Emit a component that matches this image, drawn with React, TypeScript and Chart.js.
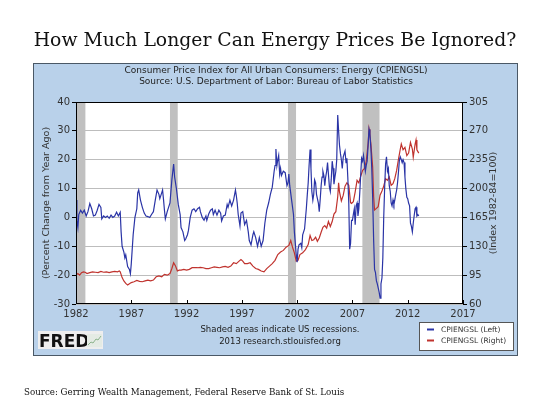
import { useEffect, useRef } from 'react';
import { Chart, registerables } from 'chart.js';

Chart.register(...registerables);

// ---------- data ----------
const blueYears = [
  1982.00, 1982.08, 1982.17, 1982.25, 1982.42, 1982.58, 1982.75, 1982.92,
  1983.08, 1983.25, 1983.42, 1983.58, 1983.75, 1983.92,
  1984.08, 1984.25, 1984.33, 1984.50, 1984.67, 1984.83,
  1985.00, 1985.17, 1985.33, 1985.50, 1985.67, 1985.83,
  1986.00, 1986.08, 1986.17, 1986.33, 1986.42, 1986.50, 1986.67, 1986.83, 1986.92,
  1987.00, 1987.17, 1987.33, 1987.50, 1987.58, 1987.67, 1987.83,
  1988.00, 1988.17, 1988.33, 1988.50, 1988.67, 1988.83,
  1989.00, 1989.17, 1989.33, 1989.50, 1989.58, 1989.75, 1989.83, 1989.92,
  1990.00, 1990.08, 1990.25, 1990.50, 1990.67, 1990.83, 1990.92,
  1991.08, 1991.25, 1991.42, 1991.50, 1991.67, 1991.83, 1991.92,
  1992.08, 1992.17, 1992.33, 1992.50, 1992.67, 1992.83,
  1993.00, 1993.17, 1993.25, 1993.42, 1993.58, 1993.75, 1993.83,
  1994.00, 1994.17, 1994.33, 1994.42, 1994.58, 1994.75, 1994.92,
  1995.08, 1995.17, 1995.33, 1995.50, 1995.67, 1995.75, 1995.92,
  1996.08, 1996.25, 1996.42, 1996.50, 1996.58, 1996.67, 1996.83, 1996.92,
  1997.08, 1997.25, 1997.42, 1997.58, 1997.67, 1997.83,
  1998.00, 1998.08, 1998.25, 1998.42, 1998.58, 1998.75, 1998.92,
  1999.08, 1999.25, 1999.42, 1999.58, 1999.75, 1999.92,
  2000.00, 2000.08, 2000.17, 2000.25, 2000.33, 2000.42, 2000.50, 2000.58, 2000.75, 2000.92,
  2001.08, 2001.17, 2001.25, 2001.33, 2001.50, 2001.67, 2001.75, 2001.92,
  2002.00, 2002.08, 2002.17, 2002.33, 2002.42, 2002.50, 2002.67, 2002.83, 2002.92,
  2003.00, 2003.08, 2003.17, 2003.25, 2003.33, 2003.42, 2003.50, 2003.58, 2003.67, 2003.75, 2003.92,
  2004.00, 2004.08, 2004.17, 2004.25, 2004.33, 2004.42, 2004.50, 2004.58, 2004.67, 2004.75, 2004.83, 2004.92,
  2005.00, 2005.08, 2005.17, 2005.25, 2005.33, 2005.42, 2005.50, 2005.58, 2005.67, 2005.75, 2005.83, 2005.92,
  2006.00, 2006.08, 2006.17, 2006.25, 2006.33, 2006.42, 2006.50, 2006.58, 2006.67, 2006.75, 2006.83, 2006.92,
  2007.00, 2007.08, 2007.17, 2007.25, 2007.33, 2007.42, 2007.50, 2007.58, 2007.67, 2007.75, 2007.83, 2007.92,
  2008.00, 2008.08, 2008.17, 2008.25, 2008.33, 2008.42, 2008.50, 2008.58, 2008.67, 2008.75, 2008.83, 2008.92,
  2009.00, 2009.08, 2009.17, 2009.25, 2009.42, 2009.50, 2009.58, 2009.67, 2009.75, 2009.83, 2009.92,
  2010.00, 2010.08, 2010.17, 2010.25, 2010.33, 2010.42, 2010.50, 2010.58, 2010.67, 2010.75, 2010.83, 2010.92,
  2011.00, 2011.08, 2011.17, 2011.25, 2011.33, 2011.42, 2011.50, 2011.58, 2011.67, 2011.75, 2011.83, 2011.92,
  2012.00, 2012.08, 2012.17, 2012.25, 2012.33, 2012.42, 2012.50, 2012.58, 2012.67, 2012.75, 2012.83, 2012.92,
  2013.00,
];
const blueValues = [
  6, -1, -3.5, 1, 2.5, 1.5, 2.5, 0.5,
  2, 4.8, 3, 0.5, 0.8, 2.5,
  4.5, 3.5, -0.5, 0.5, 0, 0.5,
  -0.3, 0.8, 0, 0.5, 1.8, 0.5,
  1.8, -5, -10, -12, -14, -13, -17, -18, -19.5,
  -16, -6, 0, 3, 8.5, 9.5, 6,
  3.5, 1.5, 0.5, 0.3, 0, 1,
  2, 6, 9.5, 8, 6.5, 8.5, 9.5, 6,
  2.5, -0.5, 2, 5, 13, 18.5, 14,
  10, 4.5, 1, -3.5, -5, -8, -7.5,
  -6, -4.5, 0, 2.5, 3, 2,
  3, 3.5, 2, 0, -1, 0.5, -1,
  1.2, 2.5, 3, 1, 2.5, 0.8, 2.5,
  1.5, -1.2, 0.5, 0.8, 4.5, 3.5, 6,
  4, 6, 9.5, 7.5, 5, 1, -3, 1.5,
  2, -2.5, -1, -5, -8, -9.5,
  -6, -5, -7, -10, -7, -10, -8,
  -2, 2.5, 5, 8, 10.5, 16,
  18, 23.7, 18, 20, 21.5, 15, 17, 14.5, 16, 15.5,
  11, 12, 15, 11, 6, 1, -5, -13,
  -15.5, -11, -9.5, -9, -10.5, -6, -4, 3, 8,
  12, 18, 23.5, 17, 9, 6, 8, 13, 12, 8, 5,
  2, 6, 11, 14, 16, 14.5, 11, 14, 16, 19, 15, 10.5,
  9, 13, 19.5, 17, 11.5, 14, 16, 20, 35.5, 30, 25, 22,
  20, 17, 21, 22, 23, 19, 20.5, 14, 5, -11, -9, -1,
  -1, 1, 3, -2.5, 4, 5, 0.5, 3, 9, 15, 20.5, 19.5,
  21.5, 19, 16, 18, 19.5, 25, 30.5, 29, 24, 17, 7, -8,
  -18, -19, -22, -23, -26, -28, -23, -21, -14, 0, 11,
  18.5, 21, 16, 17, 11, 9, 5, 4, 6, 4.5, 6, 8,
  9.5, 12, 16, 20, 21, 20, 19, 20, 19, 14, 10, 7,
  6.5, 5, 4, -2, -3, -5, -2, 0.5, 3, 3.5, 0.5, 1,
  0.5,
];

const redYears = [
  1982.00, 1982.17, 1982.33, 1982.50, 1982.67, 1982.83,
  1983.00, 1983.25, 1983.50, 1983.75,
  1984.00, 1984.25, 1984.50, 1984.75,
  1985.00, 1985.25, 1985.50, 1985.75, 1985.92,
  1986.00, 1986.17, 1986.33, 1986.50, 1986.67, 1986.83,
  1987.00, 1987.25, 1987.50, 1987.75,
  1988.00, 1988.25, 1988.50, 1988.75,
  1989.00, 1989.25, 1989.50, 1989.75,
  1990.00, 1990.25, 1990.50, 1990.67, 1990.83,
  1991.00, 1991.17, 1991.33, 1991.50, 1991.75,
  1992.00, 1992.25, 1992.50, 1992.75,
  1993.00, 1993.25, 1993.50, 1993.75,
  1994.00, 1994.25, 1994.50, 1994.75,
  1995.00, 1995.25, 1995.50, 1995.75,
  1996.00, 1996.25, 1996.50, 1996.75, 1996.92,
  1997.08, 1997.25, 1997.50, 1997.75,
  1998.00, 1998.25, 1998.50, 1998.75,
  1999.00, 1999.25, 1999.50, 1999.75,
  2000.00, 2000.25, 2000.50, 2000.75,
  2001.00, 2001.25, 2001.42, 2001.58, 2001.75, 2001.92,
  2002.08, 2002.25, 2002.50, 2002.75,
  2003.00, 2003.17, 2003.33, 2003.50, 2003.67, 2003.83,
  2004.00, 2004.17, 2004.33, 2004.50, 2004.67, 2004.83,
  2005.00, 2005.17, 2005.33, 2005.50, 2005.67, 2005.75, 2005.83,
  2006.00, 2006.17, 2006.33, 2006.50, 2006.67, 2006.83, 2006.92,
  2007.08, 2007.25, 2007.42, 2007.58, 2007.75, 2007.92,
  2008.08, 2008.25, 2008.42, 2008.50, 2008.58, 2008.67, 2008.83, 2008.92,
  2009.00, 2009.17, 2009.33, 2009.50, 2009.67, 2009.83,
  2010.00, 2010.17, 2010.33, 2010.50, 2010.67, 2010.83,
  2011.00, 2011.17, 2011.33, 2011.42, 2011.58, 2011.75, 2011.92,
  2012.08, 2012.25, 2012.42, 2012.50, 2012.67, 2012.75, 2012.83,
  2013.00,
];
const redValues = [
  95, 97, 95, 98, 99, 98.5,
  97, 98, 99, 98.5,
  98, 99.5, 98.5, 99,
  98, 99, 99.5, 99, 100,
  99, 92, 88, 85, 83, 84.5,
  86, 87, 88.5, 87.5,
  87, 88, 89, 88,
  89, 93, 94, 93,
  96, 95, 97, 103, 110,
  106, 100, 101, 101, 102,
  101, 102, 104, 104,
  104, 104.5, 104, 103,
  103, 104, 105, 104.5,
  104, 105, 105.5, 104.5,
  106, 110, 109, 112, 114,
  112, 109, 109, 110,
  106, 103, 102, 100,
  99, 103, 106, 109,
  113, 120, 123, 125,
  129, 131, 137, 129, 122, 112,
  113, 120, 122, 126,
  132, 143, 137, 138, 141, 136,
  140, 147, 153, 155, 152, 160,
  154, 160, 169, 172, 190, 207, 196,
  185, 192, 203, 207, 204, 183, 182,
  184, 196, 210, 207, 215, 222,
  224, 233, 255, 272, 265, 254, 226, 190,
  174, 176, 178, 192, 197, 203,
  212, 210, 214, 204, 206, 212,
  222, 236, 248, 254, 247, 250, 240,
  243, 256, 248, 238, 254, 259, 247,
  243,
];

const recessionStarts = [1981.5, 1990.5, 2001.17, 2007.9];
const recessionEnds = [1982.85, 1991.2, 2001.9, 2009.45];

const xTicks = [1982, 1987, 1992, 1997, 2002, 2007, 2012, 2017];
const leftTicks = [-30, -20, -10, 0, 10, 20, 30, 40];
const rightTicks = [60, 95, 130, 165, 200, 235, 270, 305];

const seriesLabels = ['CPIENGSL (Left)', 'CPIENGSL (Right)'];
const headerLines = [
  'Consumer Price Index for All Urban Consumers: Energy (CPIENGSL)',
  'Source: U.S. Department of Labor: Bureau of Labor Statistics',
];
const footerLines = ['Shaded areas indicate US recessions.', '2013 research.stlouisfed.org'];
const leftAxisTitle = '(Percent Change from Year Ago)';
const rightAxisTitle = '(Index 1982-84=100)';

const BLUE = '#2a34a6';
const RED = '#c0332e';
const PANEL = '#b9d1ea';
const SANS = '"DejaVu Sans", Verdana, sans-serif';

export default function App() {
  const ref = useRef<HTMLCanvasElement>(null);

  useEffect(() => {
    const canvas = ref.current;
    if (!canvas) return;

    const decor = {
      id: 'fredDecor',
      beforeDraw(chart: any) {
        const { ctx, chartArea } = chart;
        ctx.save();
        ctx.fillStyle = '#ffffff';
        ctx.fillRect(0, 0, chart.width, chart.height);
        ctx.fillStyle = PANEL;
        ctx.fillRect(33, 63, 485, 293);
        ctx.strokeStyle = '#4a5866';
        ctx.lineWidth = 1;
        ctx.strokeRect(33.5, 63.5, 484, 292);
        ctx.fillStyle = '#ffffff';
        ctx.fillRect(chartArea.left, chartArea.top, chartArea.right - chartArea.left, chartArea.bottom - chartArea.top);

        // header
        ctx.fillStyle = '#222';
        ctx.font = `9px ${SANS}`;
        ctx.textAlign = 'center';
        ctx.textBaseline = 'middle';
        ctx.fillText(headerLines[0], 276, 71);
        ctx.fillText(headerLines[1], 276, 82);

        // axis titles
        ctx.fillStyle = '#333';
        ctx.font = `9.5px ${SANS}`;
        ctx.save();
        ctx.translate(47, 203);
        ctx.rotate(-Math.PI / 2);
        ctx.fillText(leftAxisTitle, 0, 0);
        ctx.restore();
        ctx.save();
        ctx.translate(494, 203);
        ctx.rotate(-Math.PI / 2);
        ctx.fillText(rightAxisTitle, 0, 0);
        ctx.restore();

        // footer
        ctx.fillStyle = '#222';
        ctx.font = `8.5px ${SANS}`;
        ctx.fillText(footerLines[0], 280, 330);
        ctx.fillText(footerLines[1], 280, 342);

        // legend
        ctx.fillStyle = '#ffffff';
        ctx.fillRect(419, 322, 94, 28);
        ctx.strokeStyle = '#555';
        ctx.strokeRect(419.5, 322.5, 94, 28);
        ctx.lineWidth = 2;
        ctx.strokeStyle = BLUE;
        ctx.beginPath();
        ctx.moveTo(427, 329.5);
        ctx.lineTo(434, 329.5);
        ctx.stroke();
        ctx.strokeStyle = RED;
        ctx.beginPath();
        ctx.moveTo(427, 340.5);
        ctx.lineTo(434, 340.5);
        ctx.stroke();
        ctx.fillStyle = '#333';
        ctx.font = `7.5px ${SANS}`;
        ctx.textAlign = 'left';
        ctx.fillText(seriesLabels[0], 441, 330);
        ctx.fillText(seriesLabels[1], 441, 341);

        // FRED logo
        ctx.fillStyle = '#eeeeee';
        ctx.fillRect(38, 331, 65, 18);
        ctx.fillStyle = '#111';
        ctx.font = `bold 17px ${SANS}`;
        ctx.textBaseline = 'alphabetic';
        ctx.fillText('FRED', 39, 347);
        ctx.fillStyle = '#e4ebe4';
        ctx.fillRect(87, 334, 15, 13);
        ctx.strokeStyle = '#8db38d';
        ctx.lineWidth = 1;
        ctx.beginPath();
        ctx.moveTo(88, 345);
        ctx.lineTo(91, 342);
        ctx.lineTo(93, 343);
        ctx.lineTo(96, 339);
        ctx.lineTo(98, 340);
        ctx.lineTo(101, 336);
        ctx.stroke();
        ctx.restore();
      },
      beforeDatasetsDraw(chart: any) {
        const { ctx, chartArea, scales } = chart;
        const xs = scales.x;
        ctx.save();
        ctx.fillStyle = '#c0c0c0';
        recessionStarts.forEach((s, i) => {
          const a = xs.getPixelForValue(Math.max(s, xs.min));
          const b = xs.getPixelForValue(Math.min(recessionEnds[i], xs.max));
          ctx.fillRect(a, chartArea.top, b - a, chartArea.bottom - chartArea.top);
        });
        // inward x tick marks
        ctx.strokeStyle = '#000';
        ctx.lineWidth = 1;
        xTicks.forEach((t) => {
          const px = Math.round(xs.getPixelForValue(t)) + 0.5;
          ctx.beginPath();
          ctx.moveTo(px, chartArea.bottom);
          ctx.lineTo(px, chartArea.bottom - 4);
          ctx.stroke();
        });
        ctx.restore();
      },
      afterDraw(chart: any) {
        const { ctx, chartArea } = chart;
        ctx.save();
        ctx.strokeStyle = '#000';
        ctx.lineWidth = 1;
        ctx.strokeRect(
          Math.round(chartArea.left) + 0.5,
          Math.round(chartArea.top) + 0.5,
          Math.round(chartArea.right - chartArea.left) - 1,
          Math.round(chartArea.bottom - chartArea.top) - 1
        );
        ctx.restore();
      },
    };

    const tickFont = { family: SANS, size: 10 };

    const chart = new Chart(canvas, {
      type: 'line',
      data: {
        datasets: [
          {
            label: seriesLabels[0],
            data: blueYears.map((x, i) => ({ x, y: blueValues[i] })),
            yAxisID: 'y',
            borderColor: BLUE,
            borderWidth: 1.2,
            pointRadius: 0,
            tension: 0,
          },
          {
            label: seriesLabels[1],
            data: redYears.map((x, i) => ({ x, y: redValues[i] })),
            yAxisID: 'y1',
            borderColor: RED,
            borderWidth: 1.2,
            pointRadius: 0,
            tension: 0,
          },
        ],
      },
      options: {
        responsive: false,
        animation: false,
        layout: { padding: { left: 33, right: 32, top: 102, bottom: 89 } },
        plugins: { legend: { display: false }, tooltip: { enabled: false } },
        scales: {
          x: {
            type: 'linear',
            min: 1982,
            max: 2017,
            afterBuildTicks: (s: any) => {
              s.ticks = xTicks.map((v) => ({ value: v }));
            },
            afterFit: (s: any) => {
              s.height = 20;
            },
            grid: { display: true, drawOnChartArea: false, drawTicks: false },
            border: { display: false },
            ticks: {
              callback: (v: any) => String(v),
              font: tickFont,
              color: '#333',
              padding: 4,
              maxRotation: 0,
              autoSkip: false,
            },
          },
          y: {
            type: 'linear',
            position: 'left',
            min: -30,
            max: 40,
            afterBuildTicks: (s: any) => {
              s.ticks = leftTicks.map((v) => ({ value: v }));
            },
            afterFit: (s: any) => {
              s.width = 43;
            },
            grid: { color: '#bdbdbd', tickColor: '#000', tickLength: 4 },
            border: { display: false },
            ticks: { font: tickFont, color: '#333', padding: 2 },
          },
          y1: {
            type: 'linear',
            position: 'right',
            min: 60,
            max: 305,
            afterBuildTicks: (s: any) => {
              s.ticks = rightTicks.map((v) => ({ value: v }));
            },
            afterFit: (s: any) => {
              s.width = 55;
            },
            grid: { drawOnChartArea: false, tickColor: '#000', tickLength: 4 },
            border: { display: false },
            ticks: { font: tickFont, color: '#333', padding: 2 },
          },
        },
      },
      plugins: [decor],
    });

    return () => chart.destroy();
  }, []);

  return (
    <div style={{ position: 'absolute', left: 0, top: 0, width: 550, height: 413, background: '#fff' }}>
      <canvas ref={ref} width={550} height={413} style={{ position: 'absolute', left: 0, top: 0 }} />
      <div
        style={{
          position: 'absolute',
          left: 0,
          top: 28,
          width: 550,
          textAlign: 'center',
          fontFamily: '"DejaVu Serif", Georgia, serif',
          fontSize: 18.8,
          lineHeight: '24px',
          color: '#111',
        }}
      >
        How Much Longer Can Energy Prices Be Ignored?
      </div>
      <div
        style={{
          position: 'absolute',
          left: 24,
          top: 385,
          fontFamily: '"DejaVu Serif", Georgia, serif',
          fontSize: 8.7,
          lineHeight: '14px',
          color: '#111',
          whiteSpace: 'nowrap',
        }}
      >
        Source: Gerring Wealth Management, Federal Reserve Bank of St. Louis
      </div>
    </div>
  );
}
